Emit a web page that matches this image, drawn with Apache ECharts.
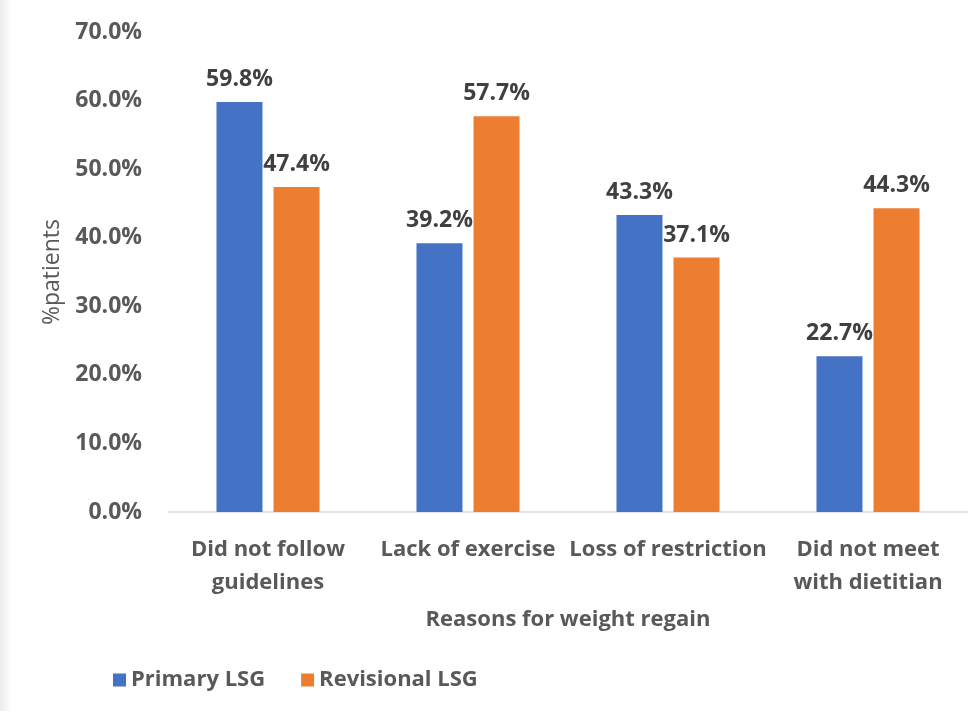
<!DOCTYPE html>
<html>
<head>
<meta charset="utf-8">
<script src="https://cdn.jsdelivr.net/npm/echarts@6/dist/echarts.min.js"></script>
<style>
  html, body { margin: 0; padding: 0; background: #ffffff; }
  #chart { width: 970px; height: 711px; }
</style>
</head>
<body>
<div id="chart"></div>
<script>
// Reasons for weight regain by surgery group (% of patients)
const categories = [
  'Did not follow\nguidelines',
  'Lack of exercise',
  'Loss of restriction',
  'Did not meet\nwith dietitian'
];
const primaryLSG = [59.8, 39.2, 43.3, 22.7];
const revisionalLSG = [47.4, 57.7, 37.1, 44.3];
const yTicks = [0, 10, 20, 30, 40, 50, 60, 70];

const textColor = '#595959';
const fontFamily = '"Open Sans", "Noto Sans", sans-serif';

const chart = echarts.init(document.getElementById('chart'), null, { renderer: 'canvas' });

const labelStyle = {
  show: true,
  position: 'top',
  distance: 11,
  color: '#404040',
  fontFamily: fontFamily,
  fontWeight: 'bold',
  fontSize: 23,
  formatter: p => p.value.toFixed(1) + '%'
};

chart.setOption({
  backgroundColor: '#ffffff',
  animation: false,
  graphic: [{
    type: 'rect',
    left: 0, top: 0,
    shape: { width: 12, height: 711 },
    style: {
      fill: new echarts.graphic.LinearGradient(0, 0, 1, 0, [
        { offset: 0, color: '#ececec' },
        { offset: 1, color: '#ffffff' }
      ])
    },
    silent: true
  }],
  grid: { left: 168, right: 2, top: 32, bottom: 199 },
  legend: {
    left: 108,
    top: 664,
    itemWidth: 13,
    itemHeight: 13,
    itemGap: 36,
    icon: 'rect',
    textStyle: { color: textColor, fontFamily: fontFamily, fontWeight: 'bold', fontSize: 22 },
    data: ['Primary LSG', 'Revisional LSG']
  },
  xAxis: {
    type: 'category',
    data: categories,
    name: 'Reasons for weight regain',
    nameLocation: 'middle',
    nameGap: 97,
    nameTextStyle: { color: textColor, fontFamily: fontFamily, fontWeight: 'bold', fontSize: 22 },
    axisLine: { show: true, lineStyle: { color: '#d9d9d9', width: 1.5 } },
    axisTick: { show: false },
    axisLabel: {
      color: textColor,
      fontFamily: fontFamily,
      fontWeight: 'bold',
      fontSize: 22,
      lineHeight: 33,
      margin: 21,
      interval: 0
    }
  },
  yAxis: {
    type: 'value',
    min: yTicks[0],
    max: yTicks[yTicks.length - 1],
    interval: yTicks[1] - yTicks[0],
    name: '%patients',
    nameLocation: 'middle',
    nameGap: 102,
    nameRotate: 90,
    nameTextStyle: { color: textColor, fontFamily: fontFamily, fontSize: 23 },
    axisLine: { show: false },
    axisTick: { show: false },
    splitLine: { show: false },
    axisLabel: {
      color: textColor,
      fontFamily: fontFamily,
      fontWeight: 'bold',
      fontSize: 23,
      margin: 26,
      formatter: v => v.toFixed(1) + '%'
    }
  },
  series: [
    {
      name: 'Primary LSG',
      type: 'bar',
      data: primaryLSG,
      barWidth: '23%',
      barGap: '24%',
      itemStyle: { color: '#4472C4' },
      label: labelStyle
    },
    {
      name: 'Revisional LSG',
      type: 'bar',
      data: revisionalLSG,
      barWidth: '23%',
      barGap: '24%',
      itemStyle: { color: '#ED7D31' },
      label: labelStyle
    }
  ]
});
</script>
</body>
</html>
